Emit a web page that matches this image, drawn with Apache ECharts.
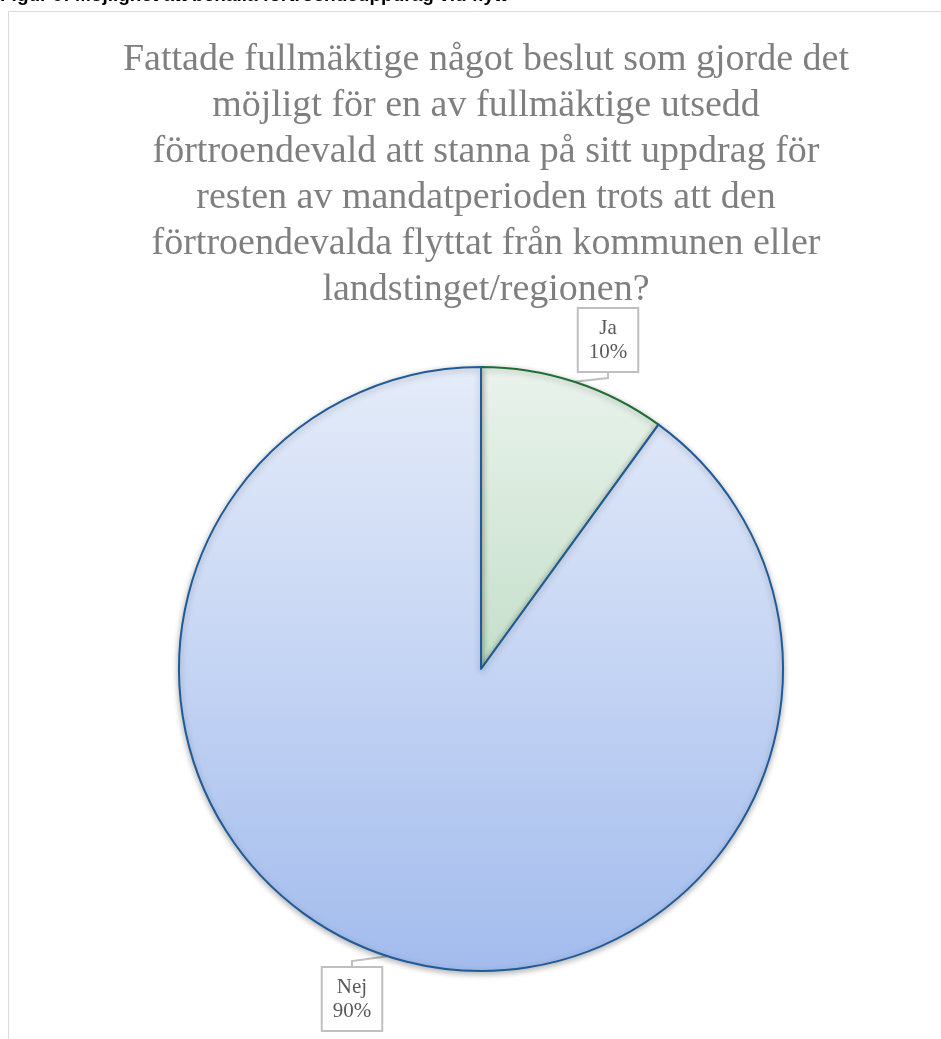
<!DOCTYPE html>
<html><head><meta charset="utf-8">
<script src="https://cdn.jsdelivr.net/npm/echarts@6/dist/echarts.min.js"></script>
<style>html,body{margin:0;padding:0;background:#fff}#c{width:941px;height:1039px}</style>
</head><body><div id="c"></div>
<script>
const caption = 'Figur 9: Möjlighet att behålla förtroendeuppdrag vid flytt';
const titleLines = [
  'Fattade fullmäktige något beslut som gjorde det',
  'möjligt för en av fullmäktige utsedd',
  'förtroendevald att stanna på sitt uppdrag för',
  'resten av mandatperioden trots att den',
  'förtroendevalda flyttat från kommunen eller',
  'landstinget/regionen?'
];
const categories = ['Ja', 'Nej'];
const values = [10, 90];

const styles = [
  {top: '#eaf3ec', bottom: '#c4dfca', border: '#1e6e34'},
  {top: '#e5ecf9', bottom: '#a3bced', border: '#1f5b98'}
];
const labelPos = [{x: 608, y: 340}, {x: 352, y: 999}];

const chart = echarts.init(document.getElementById('c'), null, {renderer: 'canvas'});
chart.setOption({
  animation: false,
  graphic: [
    {type: 'rect', shape: {x: 8.5, y: 11.5, width: 1000, height: 1100}, style: {fill: 'none', stroke: '#d9d9d9', lineWidth: 1}, z: -1},
    {type: 'text', left: 0, top: -14, style: {text: caption, font: 'bold 19px "Liberation Sans", Arial, sans-serif', fill: '#000'}}
  ],
  title: {
    text: titleLines.join('\n'),
    left: 481, textAlign: 'center', top: 32,
    textStyle: {fontFamily: '"Liberation Serif", "Times New Roman", serif', fontSize: 38, fontWeight: 'normal', color: '#7f7f7f', lineHeight: 46}
  },
  series: [{
    type: 'pie',
    center: [481, 669],
    radius: [0, 302],
    startAngle: 90,
    clockwise: true,
    data: categories.map((c, i) => ({
      name: c, value: values[i],
      itemStyle: {
        color: {type: 'linear', x: 0, y: 0, x2: 0, y2: 1, colorStops: [{offset: 0, color: styles[i].top}, {offset: 1, color: styles[i].bottom}]},
        borderColor: styles[i].border, borderWidth: 2
      }
    })),
    itemStyle: {shadowBlur: 6, shadowColor: 'rgba(0,0,0,0.3)', shadowOffsetX: 0, shadowOffsetY: 2},
    label: {
      show: true,
      formatter: p => p.name + '\n' + p.value + '%',
      fontFamily: '"Liberation Serif", "Times New Roman", serif',
      fontSize: 21, color: '#595959', lineHeight: 24,
      backgroundColor: '#fff', borderColor: '#bfbfbf', borderWidth: 2,
      padding: [8, 10, 6, 10], align: 'center'
    },
    labelLine: {show: true, length: 10, length2: 5, lineStyle: {color: '#bfbfbf', width: 2}},
    labelLayout: function (params) {
      const p = labelPos[params.dataIndex];
      return {x: p.x, y: p.y, align: 'center', verticalAlign: 'middle'};
    },
    emphasis: {disabled: true}
  }]
});
</script></body></html>
